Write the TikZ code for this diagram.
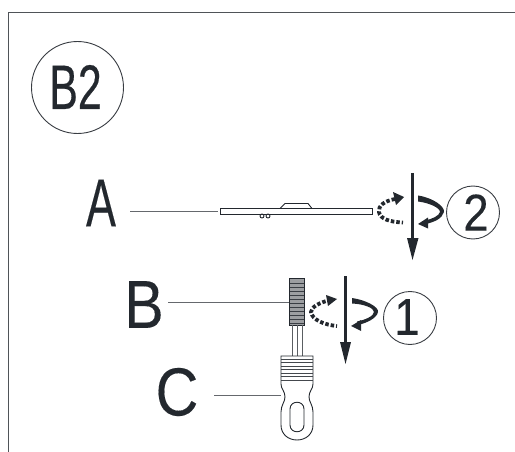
\documentclass[tikz,border=0pt]{standalone}
\usepackage{fontspec}
\setmainfont{Liberation Sans}
\newfontfamily\narrowfont[FakeStretch=0.68,FakeBold=0.3]{Liberation Sans}
\newfontfamily\afont[FakeStretch=0.66,FakeBold=0.2]{Liberation Sans}
\newfontfamily\letterfont[FakeStretch=0.87,FakeBold=0.2]{Liberation Sans}
\newfontfamily\numfont[FakeStretch=0.88,FakeBold=0.2]{Liberation Sans}
\definecolor{ink}{HTML}{23282E}
\tikzset{
  x=1pt,y=-1pt,
  thin line/.style={draw=ink,line width=0.9pt},
  frame line/.style={draw=ink!80,line width=1.3pt},
  badge/.style={circle,draw=ink!90,line width=0.9pt,inner sep=0pt,fill=white},
  big letter/.style={text=ink,font=\letterfont\fontsize{68}{68}\selectfont,inner sep=0pt},
  num/.style={text=ink,font=\numfont\fontsize{52}{52}\selectfont,inner sep=0pt},
  leader/.style={draw=ink!70,line width=1pt},
  turn dash/.style={draw=ink,line width=3.8pt,dash pattern=on 3.5pt off 2pt},
  head/.style={fill=ink,draw=none},
  shaft/.style={draw=ink,line width=3.4pt},
}
\begin{document}
\begin{tikzpicture}
\useasboundingbox (0,0) rectangle (515,452);
\draw[frame line] (8.7,452) -- (8.7,12.5) -- (515,12.5);
% badge
\node[badge,minimum size=92pt] (badge) at (77.5,87.5) {};
\node[text=ink,inner sep=0pt,font=\narrowfont\fontsize{63}{63}\selectfont] (badgetext) at (75.5,87) {B2};
% labels
\node[big letter,font=\afont\fontsize{68}{68}\selectfont] (A) at (101,203) {A};
\node[big letter] (B) at (144,304.5) {B};
\node[big letter] (C) at (177,392) {C};
% disc
\coordinate (aend) at (218,211);
\draw[leader] (130,211) -- (aend);
\draw[thin line,fill=white] (220.5,208.5) rectangle (372.5,214.5);
\draw[thin line] (280,208.5) -- (285,203.5) -- (308,203.5) -- (312,208.5);
\draw[thin line] (262,216) circle (2);
\draw[thin line] (268,216) circle (2);
% rotation 2
\draw[turn dash] (395,199) .. controls (384,201) and (378,206) .. (379,212) .. controls (380,219) and (390,222) .. (403,222.5);
\fill[head] (404,197) -- (393,192) -- (396,205) -- cycle;
\fill[head] (418,195.5) .. controls (434,198) and (445,207) .. (444,212) .. controls (442,219) and (434,222) .. (426,224) -- (425,220.5) .. controls (432,219) and (439,216) .. (440,212) .. controls (440,208) and (430,203) .. (418,201.5) -- cycle;
\fill[head] (418,224) -- (428,217.5) -- (428,228.5) -- cycle;
\draw[shaft] (412.5,173) -- (412.5,240);
\fill[head] (407,238) -- (418.5,238) -- (412.5,260) -- cycle;
\node[badge,minimum size=53pt] (two) at (473,212.5) {};
\node[num] (twotext) at (476,212.5) {2};
% knob
\coordinate (bend) at (289,302);
\draw[leader] (168,302) -- (bend);
\draw[thin line,fill=ink!45] (289.5,278.5) rectangle (304.5,325);
\foreach \yy in {283,287,...,323}{\draw[ink!90,line width=0.8pt] (290,\yy) -- (304,\yy);}
\draw[thin line,ink!75] (292,325) -- (292,356);
\draw[thin line,ink!75] (297,325) -- (297,356);
\draw[thin line,ink!75] (302.5,325) -- (302.5,356);
% rotation 1
\draw[turn dash] (331,300) .. controls (320,302) and (311,307) .. (311,312) .. controls (312,320) and (325,325) .. (337,326);
\fill[head] (337,299) -- (326,295) -- (328,306) -- cycle;
\fill[head] (352,298) .. controls (366,300) and (379,307) .. (378,312) .. controls (377,318) and (367,323) .. (358,325) -- (357,321.5) .. controls (365,320) and (374,316) .. (374,312) .. controls (374,308) and (364,304) .. (352,303.5) -- cycle;
\fill[head] (351,326) -- (361,320) -- (361,331) -- cycle;
\draw[shaft] (345.5,276) -- (345.5,345);
\fill[head] (340,342) -- (351,342) -- (345.5,364) -- cycle;
\node[badge,minimum size=53pt] (one) at (410,318) {};
\node[num] (onetext) at (407,317) {1};
% handle
\coordinate (cend) at (281,395);
\draw[leader] (214,395) -- (cend);
\draw[thin line,fill=white] (281,356) -- (313,356) -- (313,384) .. controls (313,389) and (309,391) .. (309,397) .. controls (309,402) and (313,405) .. (313,412) -- (313,425) .. controls (313,434) and (306,440) .. (297,440) .. controls (288,440) and (281,434) .. (281,425) -- (281,412) .. controls (281,405) and (285,402) .. (285,397) .. controls (285,391) and (281,389) .. (281,384) -- cycle;
\foreach \yy in {359,362.5,...,383}{\draw[ink!85,line width=0.8pt] (281,\yy) -- (313,\yy);}
\draw[thin line] (290,409) .. controls (290,400) and (304,400) .. (304,409) -- (304,425) .. controls (304,434) and (290,434) .. (290,425) -- cycle;
\end{tikzpicture}
\end{document}
